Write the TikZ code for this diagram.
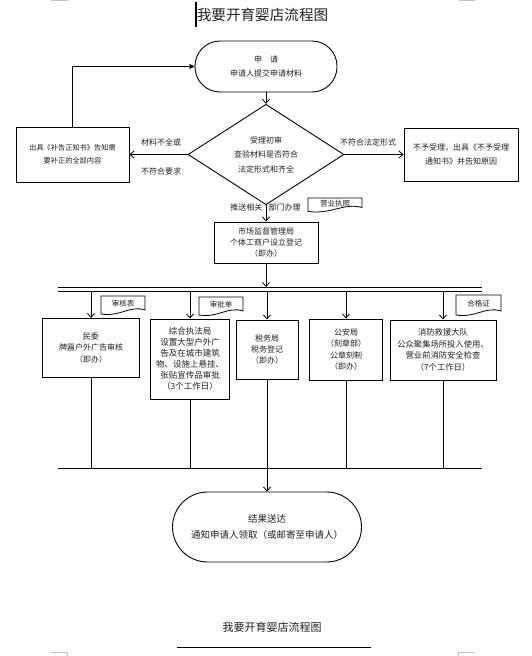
\documentclass[tikz,border=0pt]{standalone}
\usepackage{fontspec}
\newfontfamily\cjk{Noto Sans CJK SC}
\usetikzlibrary{arrows.meta,shapes.geometric}
\newcommand{\mydocshape}[6]{%
  \draw[docline] (#2,#3) -- (#4,#3) -- (#4,#5-4)
    .. controls ({#4-0.35*(#4-#2)},#5-9) and ({#2+0.45*(#4-#2)},#5+3) .. (#2,#5) -- cycle;
  \node[doctext] (#1) at ({(#2+#4)/2},{#3+0.42*(#5-#3)}) {#6};
}
\begin{document}
\begin{tikzpicture}[x=1pt,y=-1pt,
  txt/.style={text=black!88,align=center,inner sep=0pt},
  box/.style={txt,draw=black,line width=0.9pt},
  stadium/.style={box},
  dia/.style={txt,draw=black,line width=0.9pt,diamond,minimum width=156pt,minimum height=95pt},
  lab/.style={txt,font=\cjk\fontsize{8}{10}\selectfont},
  docline/.style={draw=black,line width=0.8pt},
  doctext/.style={txt,font=\cjk\fontsize{7.5}{9}\selectfont},
  conn/.style={draw=black,line width=0.8pt},
  arr/.style={conn,-{Straight Barb[length=4pt,width=7pt]}},
  farr/.style={conn,-{Triangle[length=5pt,width=5pt]}},
  crop/.style={draw=black!25,line width=0.8pt}
]
\useasboundingbox (0,0) rectangle (532,656);

% crop marks
\draw[crop] (51,0.5) -- (67,0.5) -- (67,0);
\draw[crop] (459,0.5) -- (475,0.5);
\draw[crop] (459,0.5) -- (459,0);
\draw[crop] (51,652.5) -- (67,652.5) -- (67,656);
\draw[crop] (475,652.5) -- (458,652.5) -- (458,656);

% title
\node[txt,font=\cjk\fontsize{14.6}{16}\selectfont] (title) at (262.5,15) {我要开育婴店流程图};
\draw[line width=1.2pt] (196,2) -- (196,27);

% start
\node[stadium,minimum width=142pt,minimum height=51pt,rounded corners=25pt,
      font=\cjk\fontsize{8}{14.3}\selectfont] (start) at (266,66.5) {申　请\\申请人提交申请材料};

% diamond
\node[dia,font=\cjk\fontsize{8}{14.5}\selectfont] (dia) at (266,154.5) {受理初审\\查验材料是否符合\\法定形式和齐全};

% side boxes
\node[box,minimum width=113pt,minimum height=55pt,font=\cjk\fontsize{7.2}{12.6}\selectfont]
  (lbox) at (72.5,154.5) {出具《补告正知书》告知需\\要补正的全部内容};
\node[box,minimum width=114pt,minimum height=53pt,font=\cjk\fontsize{8}{14.7}\selectfont]
  (rbox) at (461,154.5) {不予受理，出具《不予受理\\通知书》并告知原因};

\node[lab] (lab1) at (161,142) {材料不全或};
\node[lab] (lab2) at (161,171) {不符合要求};
\node[lab] (lab3) at (368,142) {不符合法定形式};

% middle box
\node[box,minimum width=104pt,minimum height=41pt,font=\cjk\fontsize{8}{11}\selectfont]
  (mbox) at (266,242.5) {市场监督管理局\\个体工商户设立登记\\（即办）};
\node[lab,anchor=east] (lab4) at (262.5,207) {推送相关};
\node[lab,anchor=west] (lab5) at (268.5,207) {部门办理};

\mydocshape{doc0}{308}{198}{362}{211.5}{营业执照}

% bus coordinates
\coordinate (busTL) at (58,287);
\coordinate (busTR) at (482,287);
\coordinate (busBL) at (58,291);
\coordinate (busBR) at (482,291);
\coordinate (bus2L) at (58,468.5);
\coordinate (bus2R) at (482,468.5);
\draw[conn] (busTL) -- (busTR);
\draw[conn] (busBL) -- (busBR);
\draw[conn] (bus2L) -- (bus2R);

% row of boxes
\node[box,minimum width=97pt,minimum height=59pt,font=\cjk\fontsize{8}{11.7}\selectfont]
  (b1) at (91,348) {民委\\牌匾户外广告审核\\（即办）};
\node[box,minimum width=79pt,minimum height=80pt,font=\cjk\fontsize{8.5}{11.1}\selectfont]
  (b2) at (190,359) {综合执法局\\设置大型户外广\\告及在城市建筑\\物、设施上悬挂、\\张贴宣传品审批\\（3个工作日）};
\node[box,minimum width=62pt,minimum height=59pt,font=\cjk\fontsize{8}{10.9}\selectfont]
  (b3) at (267,349.5) {税务局\\税务登记\\（即办）};
\node[box,minimum width=73pt,minimum height=61pt,font=\cjk\fontsize{8}{11.5}\selectfont]
  (b4) at (346,349.5) {公安局\\（刻章部）\\公章刻制\\（即办）};
\node[box,minimum width=106pt,minimum height=60pt,font=\cjk\fontsize{8.3}{11.5}\selectfont]
  (b5) at (443,350) {消防救援大队\\公众聚集场所投入使用、\\营业前消防安全检查\\（7个工作日）};

\mydocshape{doc1}{101}{296}{145}{314}{审核表}
\mydocshape{doc2}{199}{297}{243}{315}{审批单}
\mydocshape{doc3}{456}{295}{501}{315}{合格证}

% end node
\node[stadium,minimum width=189pt,minimum height=70pt,rounded corners=35pt,
      font=\cjk\fontsize{9.5}{15.3}\selectfont] (end) at (267,527) {结果送达\\通知申请人领取（或邮寄至申请人）};

% connectors
\draw[arr] (start.south) -- (dia.north);
\draw[arr] (dia.west) -- (lbox.east);
\draw[arr] (dia.east) -- (rbox.west);
\draw[farr] (lbox.north) |- (start.west);
\draw[arr] (dia.south) -- (mbox.north);
\draw[arr] (mbox.south) -- (mbox.south |- busTL);
\foreach \b in {b1,b2,b3,b4,b5}{
  \draw[arr] (\b.north |- busBL) -- (\b.north);
}
\foreach \b in {b1,b2,b4,b5}{
  \draw[conn] (\b.south) -- (\b.south |- bus2L);
}
\draw[arr] (b3.south) -- (end.north);

% bottom title
\node[txt,font=\cjk\fontsize{11}{13}\selectfont] (btitle) at (272,627) {我要开育婴店流程图};
\coordinate (ulL) at (177,647);
\coordinate (ulR) at (371,647);
\draw[conn,line width=0.9pt] (ulL) -- (ulR);
\end{tikzpicture}
\end{document}
